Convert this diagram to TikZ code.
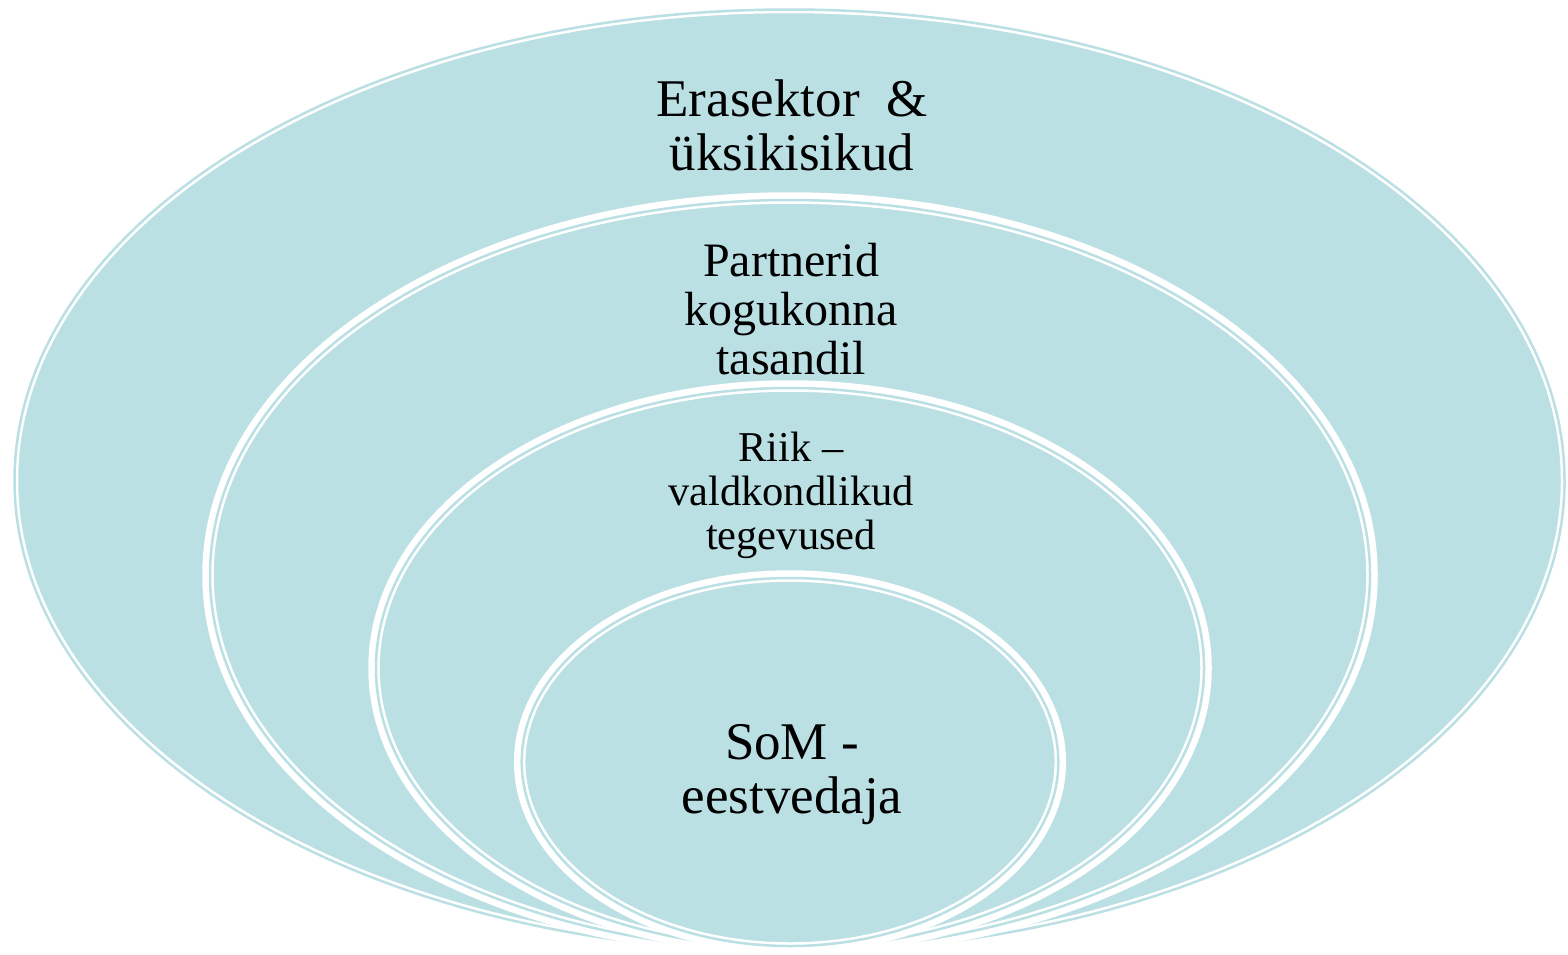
\documentclass[tikz,border=0pt]{standalone}
\usepackage{fontspec}
\setmainfont{Liberation Serif}
\definecolor{ringfill}{RGB}{187,224,228}
\tikzset{
  ringwhite/.style={draw=white, line width=11.5pt, fill=ringfill},
  ringline/.style={draw=ringfill, line width=2.5pt},
  lbl/.style={align=center, inner sep=0pt, text=black}
}
\newcommand\myring[4]{%
  \path[ringwhite] (#1,#2) ellipse [x radius={#3pt+2pt}, y radius={#4pt+2pt}];
  \path[ringline] (#1,#2) ellipse [x radius={#3pt}, y radius={#4pt}];
}
\begin{document}
\begin{tikzpicture}[x=1pt,y=-1pt]
\useasboundingbox (0,0) rectangle (1568,954);
\myring{789.5}{480.5}{775}{471}
\myring{790}{575}{580}{375}
\myring{790}{668}{414}{280}
\myring{790}{762}{268.3}{184}
\node[lbl, font=\fontsize{53}{54}\selectfont] (t1) at (792,125) {Erasektor\ \ \&\\üksikisikud};
\node[lbl, font=\fontsize{48}{49}\selectfont] (t2) at (791,309) {Partnerid\\kogukonna\\tasandil};
\node[lbl, font=\fontsize{42.5}{44}\selectfont] (t3) at (791,495) {Riik –\\valdkondlikud\\tegevused};
\node[lbl, font=\fontsize{53}{54}\selectfont] (t4) at (792,775) {SoM -\\eestvedaja};
\end{tikzpicture}
\end{document}
